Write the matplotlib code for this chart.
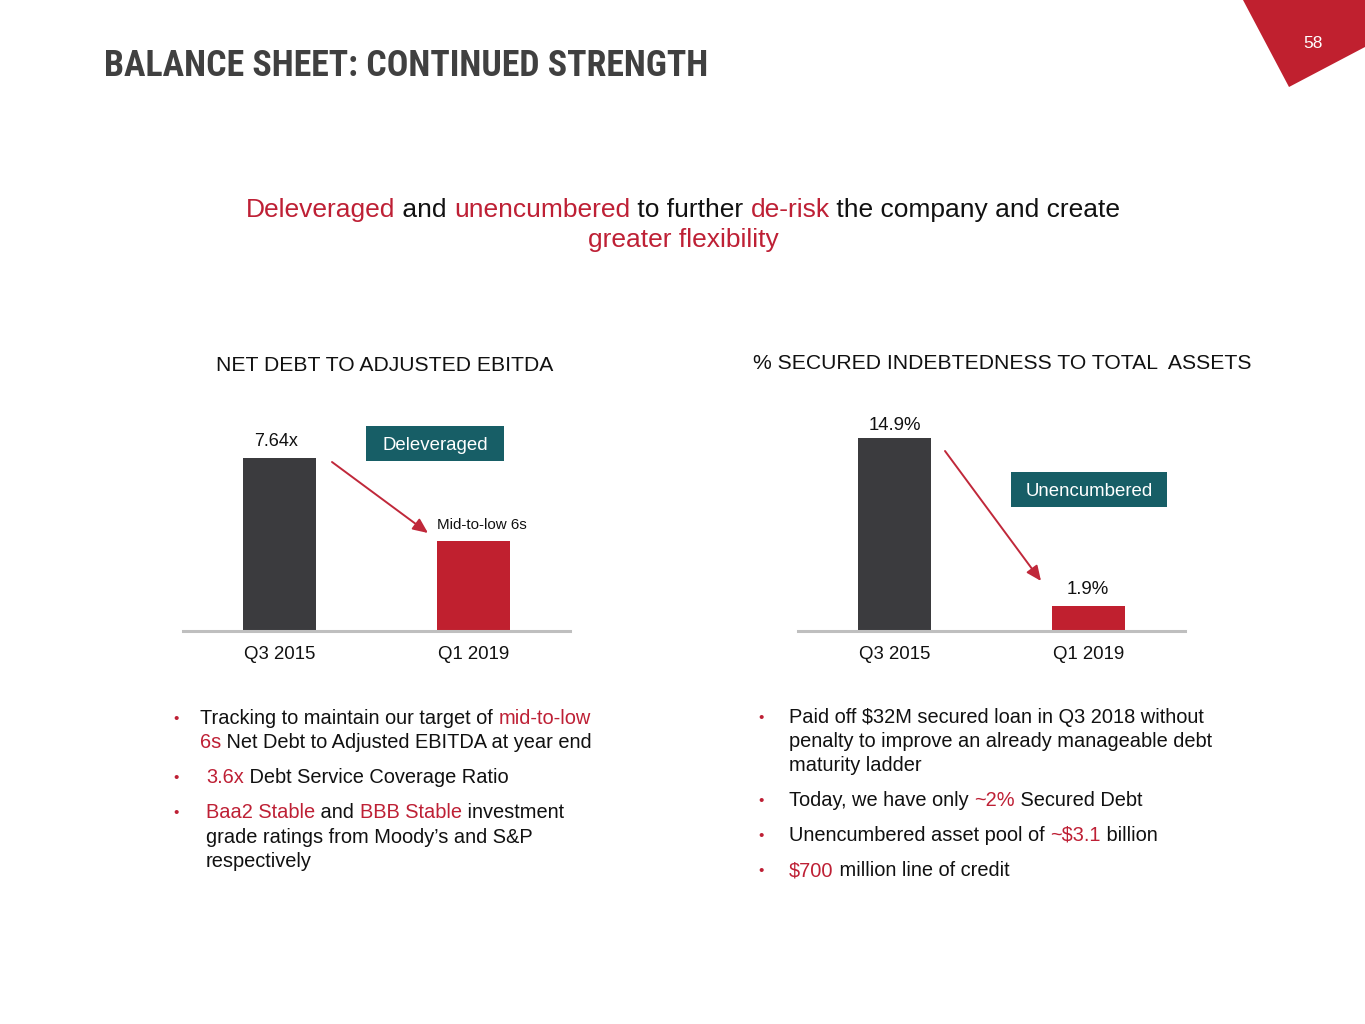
import matplotlib
matplotlib.use("Agg")
import matplotlib.pyplot as plt
from matplotlib.patches import Polygon, Rectangle, FancyArrowPatch

W, H = 1365, 1024
plt.rcParams['font.family'] = ['Liberation Sans', 'DejaVu Sans']

# ---------------- data ----------------
categories = ["Q3 2015", "Q1 2019"]
net_debt_values = [7.64, 6.3]          # second bar: target "mid-to-low 6s"
net_debt_labels = ["7.64x", "Mid-to-low 6s"]
secured_values = [14.9, 1.9]
secured_labels = ["14.9%", "1.9%"]

left_title = "NET DEBT TO ADJUSTED EBITDA"
right_title = "% SECURED INDEBTEDNESS TO TOTAL  ASSETS"
page_title = "BALANCE SHEET: CONTINUED STRENGTH"
page_number = "58"

RED = "#C0202F"
TXT_RED = "#BE2035"
DARK = "#3B3B3E"
TEAL = "#175E66"
GREY = "#BFBFBF"
BLACK = "#111111"

fig = plt.figure(figsize=(W / 100, H / 100), dpi=100)
renderer = fig.canvas.get_renderer()


def fx(x):
    return x / W


def fy(y):
    return 1 - y / H


def text_w(s, size, weight="normal", family=None, stretch="normal"):
    t = fig.text(0, 0, s, fontsize=size, fontweight=weight,
                 family=family if family else plt.rcParams['font.family'],
                 fontstretch=stretch)
    w = t.get_window_extent(renderer).width
    t.remove()
    return w


def rich(x, y, segs, size, ha="left"):
    """Draw a line made of (text, colour) segments, baseline at pixel y."""
    full = ""
    offs = []
    dot = text_w(".", size)
    for s, c in segs:
        offs.append(0 if full == "" else text_w(full + ".", size) - dot)
        full += s
    total = text_w(full, size)
    x0 = x - total / 2 if ha == "center" else x
    for (s, c), o in zip(segs, offs):
        fig.text(fx(x0 + o), fy(y), s, color=c, fontsize=size,
                 ha="left", va="baseline")


# ---------------- header ----------------
fig.patches.append(Polygon([(fx(1243), fy(0)), (fx(1365), fy(0)),
                            (fx(1365), fy(47)), (fx(1289), fy(87))],
                           closed=True, transform=fig.transFigure,
                           facecolor=RED, edgecolor="none"))
fig.text(fx(1313), fy(48), page_number, color="white", fontsize=12.5,
         ha="center", va="baseline")

title_fam = ['Liberation Sans Narrow', 'Roboto Condensed', 'Liberation Sans',
             'DejaVu Sans']
w24 = text_w(page_title, 24, weight="bold", family=title_fam,
             stretch="condensed")
title_size = min(25.8, 24 * 616.0 / w24)
fig.text(fx(104), fy(76), page_title, color="#404040", fontsize=title_size,
         fontweight="bold", ha="left", va="baseline", family=title_fam,
         fontstretch="condensed")

rich(683, 217, [("Deleveraged", TXT_RED), (" and ", BLACK),
                ("unencumbered", TXT_RED), (" to further ", BLACK),
                ("de-risk", TXT_RED), (" the company and create", BLACK)],
     19, ha="center")
rich(683, 247, [("greater flexibility", TXT_RED)], 19, ha="center")

# ---------------- charts ----------------
def make_axes(x0, x1):
    ax = fig.add_axes([fx(x0), fy(631), fx(x1) - fx(x0), (631 - 400) / H])
    for s in ["top", "right", "left"]:
        ax.spines[s].set_visible(False)
    ax.spines["bottom"].set_color(GREY)
    ax.spines["bottom"].set_linewidth(2.2)
    ax.set_yticks([])
    ax.set_xlim(-0.5, 1.5)
    ax.set_xticks(range(len(categories)))
    ax.set_xticklabels(categories, fontsize=13.4, color=BLACK)
    ax.tick_params(axis="x", length=0, pad=11)
    ax.patch.set_alpha(0)
    return ax


axL = make_axes(183, 570)
axL.set_ylim(4.85, 4.85 + 231 / 62.0)
axL.bar(range(2), net_debt_values, width=0.376, color=[DARK, RED], bottom=0)
axL.annotate(net_debt_labels[0], (0, net_debt_values[0]), xytext=(-4, 12),
             textcoords="offset pixels", ha="center", va="baseline",
             fontsize=13, color=BLACK)
axL.annotate(net_debt_labels[1], (1, net_debt_values[1]), xytext=(9, 12),
             textcoords="offset pixels", ha="center", va="baseline",
             fontsize=10.9, color=BLACK)
fig.text(fx(385), fy(371), left_title, fontsize=15.2, color=BLACK,
         ha="center", va="baseline")

axR = make_axes(798, 1185)
axR.set_ylim(0, 231 / 12.95)
axR.bar(range(2), secured_values, width=0.376, color=[DARK, RED])
axR.annotate(secured_labels[0], (0, secured_values[0]), xytext=(0, 8),
             textcoords="offset pixels", ha="center", va="baseline",
             fontsize=13.4, color=BLACK)
axR.annotate(secured_labels[1], (1, secured_values[1]), xytext=(0, 12),
             textcoords="offset pixels", ha="center", va="baseline",
             fontsize=13.4, color=BLACK)
fig.text(fx(1002), fy(369), right_title, fontsize=15.2, color=BLACK,
         ha="center", va="baseline")

# teal callout boxes
for (bx0, by0, bx1, by1, label) in [(366, 426, 504, 461, "Deleveraged"),
                                    (1011, 472, 1167, 507, "Unencumbered")]:
    fig.patches.append(Rectangle((fx(bx0), fy(by1)), fx(bx1) - fx(bx0),
                                 (by1 - by0) / H, transform=fig.transFigure,
                                 facecolor=TEAL, edgecolor="none"))
    fig.text(fx((bx0 + bx1) / 2), fy((by0 + by1) / 2 + 6), label,
             color="white", fontsize=13.4, ha="center", va="baseline")

# arrows
for (x0, y0, x1, y1) in [(332, 462, 428, 533), (945, 451, 1041, 581)]:
    fig.add_artist(FancyArrowPatch(
        (fx(x0), fy(y0)), (fx(x1), fy(y1)), transform=fig.transFigure,
        arrowstyle="-|>,head_length=9,head_width=4", mutation_scale=1,
        color="#C0283A", linewidth=1.4, shrinkA=0, shrinkB=0))

# ---------------- bullets ----------------
BS = 14.4


def bullet(x, y):
    fig.text(fx(x), fy(y), "•", color=TXT_RED, fontsize=11, ha="center",
             va="baseline")


bullet(176, 723)
rich(200, 724, [("Tracking to maintain our target of ", BLACK),
                ("mid-to-low", TXT_RED)], BS)
rich(200, 748, [("6s", TXT_RED),
                (" Net Debt to Adjusted EBITDA at year end", BLACK)], BS)
bullet(176, 782)
rich(206, 783, [("3.6x", TXT_RED), (" Debt Service Coverage Ratio", BLACK)], BS)
bullet(176, 817)
rich(206, 818, [("Baa2 Stable", TXT_RED), (" and ", BLACK),
                ("BBB Stable", TXT_RED), (" investment", BLACK)], BS)
rich(206, 843, [("grade ratings from Moody\u2019s and S&P", BLACK)], BS)
rich(206, 867, [("respectively", BLACK)], BS)

bullet(761, 722)
rich(789, 723, [("Paid off $32M secured loan in Q3 2018 without", BLACK)], BS)
rich(789, 747, [("penalty to improve an already manageable debt", BLACK)], BS)
rich(789, 771, [("maturity ladder", BLACK)], BS)
bullet(761, 805)
rich(789, 806, [("Today, we have only ", BLACK), ("~2%", TXT_RED),
                (" Secured Debt", BLACK)], BS)
bullet(761, 840)
rich(789, 841, [("Unencumbered asset pool of ", BLACK), ("~$3.1", TXT_RED),
                (" billion", BLACK)], BS)
bullet(761, 875)
rich(789, 876, [("$700", TXT_RED), (" million line of credit", BLACK)], BS)

fig.savefig("out.png", dpi=100, facecolor="white")
